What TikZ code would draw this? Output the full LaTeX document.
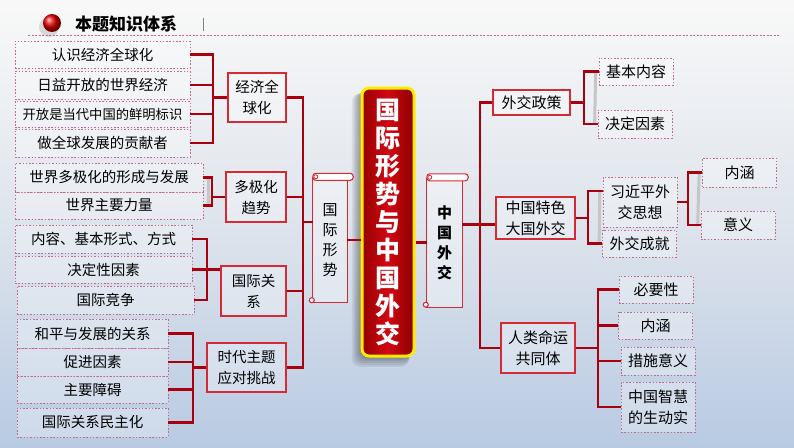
\documentclass[tikz,border=0pt]{standalone}
\usepackage{fontspec}
\setmainfont{Noto Sans CJK SC}
\usetikzlibrary{calc}
\definecolor{linkred}{HTML}{A8000E}
\definecolor{boxred}{HTML}{D42A36}
\definecolor{leafline}{HTML}{C06A8E}
\definecolor{hubred}{HTML}{D20812}
\definecolor{hubdark}{HTML}{8A0000}
\definecolor{sunyellow}{HTML}{FFEC00}
\newcommand{\leaffont}{\fontsize{14.5}{17}\selectfont}
\newcommand{\scrollframe}[1]{%
  \draw[boxred, line width=1.1pt]
    (#1.north west) -- (#1.south west) -- (#1.south east) -- (#1.north east);
  \draw[boxred, line width=1.1pt, fill=white, rounded corners=3pt]
    ([yshift=4pt]#1.north west) rectangle ([xshift=6pt,yshift=-3pt]#1.north east);
  \draw[boxred, line width=.8pt] ([xshift=3pt,yshift=.5pt]#1.north west) circle (2pt);
  \draw[boxred, line width=1.1pt, fill=white] ([xshift=-1pt,yshift=2.5pt]#1.south west) circle (2.5pt);
}
\tikzset{
  link/.style={draw=linkred, line width=2.3pt},
  bracegray/.style={draw=gray!45, line width=3pt},
  leaf/.style={draw=leafline, line width=.7pt, dash pattern=on 1.5pt off 1.8pt,
    fill=white, fill opacity=.3, text opacity=1, inner sep=0pt, align=center, font=\leaffont},
  topic/.style={draw=boxred, line width=1.1pt, fill=white, fill opacity=.3, text opacity=1,
    inner sep=0pt, align=center, font=\fontsize{14.5}{21}\selectfont},
  scrollbox/.style={inner sep=0pt, align=center, minimum width=34pt, minimum height=125pt,
    fill=white, fill opacity=.35, text opacity=1, font=\fontsize{15}{20}\selectfont},
  hub/.style={rounded corners=7pt, draw=sunyellow, line width=3pt, left color=hubdark!85!hubred,
    right color=hubdark, middle color=hubred, text=white, inner sep=0pt, align=center,
    minimum width=52pt, minimum height=268pt, font=\bfseries\fontsize{25}{28}\selectfont},
}

\begin{document}
\begin{tikzpicture}[x=1pt,y=-1pt]
  \useasboundingbox (0,0) rectangle (794,447);
  \fill[top color=white!95!gray, bottom color={rgb,255:red,184;green,202;blue,226},
    middle color={rgb,255:red,222;green,228;blue,236}] (0,0) rectangle (794,447);

  % header
  \fill[black, opacity=.12] (49,27) circle (10pt);
  \shade[ball color=red!90!black] (52,23) circle (9pt);
  \node[anchor=west, inner sep=0pt, font=\bfseries\fontsize{17}{20}\selectfont] (head) at (75,24) {本题知识体系};
  \draw[gray, line width=.8pt] (203,18) -- (203,31);
  \draw[leafline, line width=.7pt, dash pattern=on 2pt off 1.5pt] (28,35) -- (780,35);

  % left leaves
  \node[leaf, minimum width=175pt, minimum height=27pt] (L1) at (102.5,54.5) {认识经济全球化};
  \node[leaf, minimum width=175pt, minimum height=28pt] (L2) at (102.5,85) {日益开放的世界经济};
  \node[leaf, minimum width=175pt, minimum height=26pt, font=\fontsize{13.3}{16}\selectfont] (L3) at (102.5,114) {开放是当代中国的鲜明标识};
  \node[leaf, minimum width=175pt, minimum height=28pt] (L4) at (102.5,143) {做全球发展的贡献者};
  \node[leaf, minimum width=188pt, minimum height=29pt] (L5) at (109,177.5) {世界多极化的形成与发展};
  \node[leaf, minimum width=188pt, minimum height=27pt] (L6) at (109,205.5) {世界主要力量};
  \node[leaf, minimum width=177pt, minimum height=28pt] (L7) at (103.5,239) {内容、基本形式、方式};
  \node[leaf, minimum width=177pt, minimum height=27pt] (L8) at (103.5,269.5) {决定性因素};
  \node[leaf, minimum width=177pt, minimum height=28pt] (L9) at (105.5,300) {国际竞争};
  \node[leaf, minimum width=151pt, minimum height=29pt] (L10) at (92.5,333.5) {和平与发展的关系};
  \node[leaf, minimum width=151pt, minimum height=28pt] (L11) at (92.5,362) {促进因素};
  \node[leaf, minimum width=151pt, minimum height=27pt] (L12) at (92.5,389.5) {主要障碍};
  \node[leaf, minimum width=151pt, minimum height=29pt] (L13) at (92.5,422.5) {国际关系民主化};

  % left topics
  \node[topic, minimum width=58pt, minimum height=49pt] (Glob) at (257,97.5) {经济全\\球化};
  \node[topic, minimum width=60pt, minimum height=50pt] (Polar) at (256,197) {多极化\\趋势};
  \node[topic, minimum width=65pt, minimum height=50pt] (Rel) at (253.5,291) {国际关\\系};
  \node[topic, minimum width=79pt, minimum height=49pt] (Era) at (246.5,367.5) {时代主题\\应对挑战};

  % centre
  \foreach \s in {1,...,6}
    \fill[black, opacity=.07, rounded corners=8pt] (362-1.7*\s,90+.6*\s) rectangle (412-.5*\s,356+1.8*\s);
  \node[hub] (Hub) at (388,222) {国\\际\\形\\势\\与\\中\\国\\外\\交};
  \node[scrollbox] (Intl) at (330,240) {国\\际\\形\\势};
  \scrollframe{Intl}
  \node[scrollbox, minimum width=35pt, minimum height=129pt, font=\bfseries\fontsize{15}{20}\selectfont] (Dipl) at (444.5,242.5) {中\\国\\外\\交};
  \scrollframe{Dipl}

  % right topics
  \node[topic, font=\fontsize{15}{21}\selectfont, minimum width=77pt, minimum height=25pt] (Policy) at (531.5,102.5) {外交政策};
  \node[topic, font=\fontsize{15}{21}\selectfont, minimum width=79pt, minimum height=42pt] (Power) at (535.5,218) {中国特色\\大国外交};
  \node[topic, font=\fontsize{15}{21}\selectfont, minimum width=74pt, minimum height=50pt] (Fate) at (538,348) {人类命运\\共同体};

  % right leaves
  \tikzset{leaf/.append style={font=\fontsize{15}{21}\selectfont, minimum width=74pt}}
  \node[leaf, minimum height=27pt] (Basic) at (636,71.5) {基本内容};
  \node[leaf, minimum height=28pt] (Cause) at (635,124) {决定因素};
  \node[leaf, minimum height=50pt] (Xi) at (640,202) {习近平外\\交思想};
  \node[leaf, minimum height=27pt] (Feat) at (639.5,243.5) {外交成就};
  \node[leaf, minimum height=29pt] (Gist) at (739.5,172.5) {内涵};
  \node[leaf, minimum height=28pt] (Sense) at (738,225) {意义};
  \node[leaf, minimum height=27pt] (Need) at (656,289.5) {必要性};
  \node[leaf, minimum height=27pt] (Gist2) at (655.5,325.5) {内涵};
  \node[leaf, minimum height=28pt] (Meas) at (658,361) {措施意义};
  \node[leaf, minimum height=50pt] (Wis) at (658,407) {中国智慧\\的生动实};

  % spines
  \coordinate (spGlob) at (213,0);
  \coordinate (spPolar) at (212,0);
  \coordinate (spRel) at (207,0);
  \coordinate (spEra) at (193,0);
  \coordinate (spIntl) at (303,0);
  \coordinate (spDipl) at (480,0);
  \coordinate (spPolicy) at (584,0);
  \coordinate (spPower) at (588,0);
  \coordinate (spXi) at (688,0);
  \coordinate (spFate) at (598,0);
  \coordinate (IntlIn) at ([yshift=18pt]Intl.west);
  \coordinate (DiplOut) at ([yshift=18pt]Dipl.east);

  % left connectors
  \draw[link] (L1.east) -| (L4.east -| spGlob) -- (L4.east);
  \draw[link] (L2.east) -- (L2.east -| spGlob);
  \draw[link] (L3.east) -- (L3.east -| spGlob);
  \draw[link] (spGlob |- Glob.west) -- (Glob.west);
  \draw[bracegray] ([xshift=5pt]L5.east) -- ([xshift=5pt]L6.east);
  \draw[link] (L5.east) -| (L6.east -| spPolar) -- (L6.east);
  \draw[link] (spPolar |- Polar.west) -- (Polar.west);
  \draw[link] (L7.east) -| (L9.east -| spRel) -- (L9.east);
  \draw[link] (L8.east) -- (L8.east -| Rel.west);
  \draw[link] (L10.east) -| (L13.east -| spEra) -- (L13.east);
  \draw[link] (L11.east) -- (L11.east -| spEra);
  \draw[link] (L12.east) -- (L12.east -| spEra);
  \draw[link] (spEra |- Era.west) -- (Era.west);
  \draw[link] (Glob.east) -| (Era.east -| spIntl) -- (Era.east);
  \draw[link] (Polar.east) -- (Polar.east -| spIntl);
  \draw[link] (Rel.east) -- (Rel.east -| spIntl);
  \draw[link] (IntlIn -| spIntl) -- (IntlIn);
  \draw[link] (Intl.east) -- (Intl.east -| Hub.west);
  \draw[link] (Hub.east |- Dipl.west) -- (Dipl.west);

  % right connectors
  \draw[link] (Policy.west) -| (Fate.west -| spDipl) -- (Fate.west);
  \draw[link] (DiplOut) -- (DiplOut -| Power.west);
  \draw[bracegray] ([xshift=-3pt]Basic.west) -- ([xshift=-3pt]Cause.west);
  \draw[link] (Basic.west) -| (Cause.west -| spPolicy) -- (Cause.west);
  \draw[link] (Policy.east) -- (Policy.east -| spPolicy);
  \draw[bracegray] ([xshift=-3pt,yshift=11pt]Xi.west) -- ([xshift=-3pt]Feat.west);
  \draw[link] ([yshift=11pt]Xi.west) -| (Feat.west -| spPower) -- (Feat.west);
  \draw[link] (Power.east) -- (Power.east -| spPower);
  \draw[bracegray] ([xshift=-3pt]Gist.west) -- ([xshift=-3pt]Sense.west);
  \draw[link] (Gist.west) -| (Sense.west -| spXi) -- (Sense.west);
  \draw[link] (Xi.east) -- (Xi.east -| spXi);
  \draw[link] (Need.west) -| (Wis.west -| spFate) -- (Wis.west);
  \draw[link] (Gist2.west) -- (Gist2.west -| spFate);
  \draw[link] (Meas.west) -- (Meas.west -| spFate);
  \draw[link] (Fate.east) -- (Fate.east -| spFate);
\end{tikzpicture}
\end{document}
